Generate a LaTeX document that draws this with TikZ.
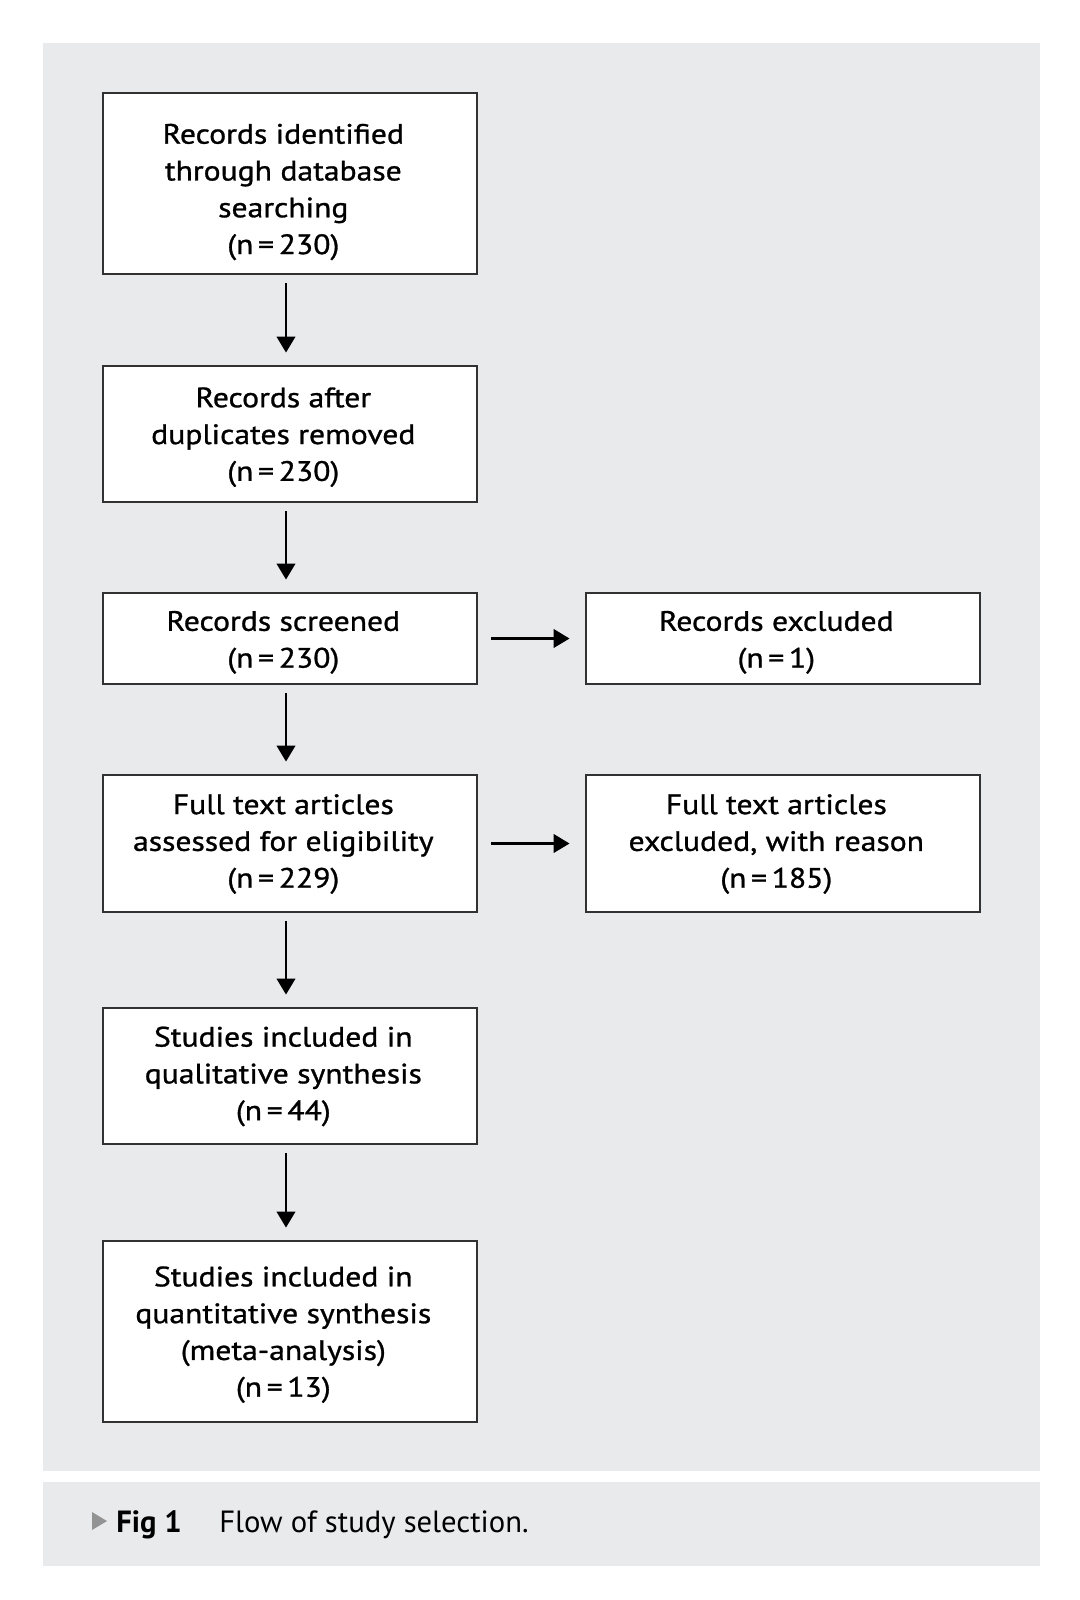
\documentclass[tikz,border=0pt]{standalone}
\usepackage{fontspec}
\setmainfont{PT Sans}
\newfontfamily\boxfont[FakeStretch=1.13,FakeBold=1.0]{PT Sans}
\usetikzlibrary{arrows.meta}
\definecolor{panel}{RGB}{233,234,236}
\definecolor{boxline}{RGB}{50,50,50}
\newcommand\btext[2][2pt]{\raisebox{-#1}[\height][\depth]{\kern-5pt\begin{tabular}{@{}c@{}}#2\end{tabular}\kern5pt}}
\begin{document}
\begin{tikzpicture}[x=0.75pt,y=-0.75pt,
  box/.style={draw=boxline,line width=2.2pt,fill=white,align=center,inner sep=0pt,
    font=\boxfont\fontsize{21pt}{27.6pt}\selectfont},
  lbox/.style={box,minimum width=280.5pt},
  rbox/.style={box,minimum width=295.5pt},
  flow/.style={line width=1.6pt,-{Triangle[width=14pt,length=12pt]}},
  down/.style={flow,shorten <=6pt,shorten >=9pt},
  side/.style={flow,shorten <=9.75pt,shorten >=11.25pt}]
\useasboundingbox (0,0) rectangle (1080,1600);
\fill[panel] (43,43) rectangle (1040,1471);
\fill[panel] (43,1482) rectangle (1040,1566);

\node[lbox,minimum height=135.75pt] (b1) at (290,183.5) {\btext[6pt]{Records identified\\through database\\searching\\(n\,=\,230)}};
\node[lbox,minimum height=102pt] (b2) at (290,434) {\btext[2pt]{Records after\\duplicates removed\\(n\,=\,230)}};
\node[lbox,minimum height=68.25pt] (b3) at (290,638.5) {\btext[2.5pt]{Records screened\\(n\,=\,230)}};
\node[lbox,minimum height=102.75pt] (b4) at (290,843.5) {\btext[0pt]{Full text articles\\assessed for eligibility\\(n\,=\,229)}};
\node[lbox,minimum height=102pt] (b5) at (290,1076) {\btext[0pt]{Studies included in\\qualitative synthesis\\(n\,=\,44)}};
\node[lbox,minimum height=135.75pt] (b6) at (290,1331.5) {\btext[2pt]{Studies included in\\quantitative synthesis\\(meta-analysis)\\(n\,=\,13)}};
\node[rbox,minimum height=68.25pt] (r3) at (783,638.5) {\btext[2.5pt]{Records excluded\\(n\,=\,1)}};
\node[rbox,minimum height=102.75pt] (r4) at (783,843.5) {\btext[0pt]{Full text articles\\excluded, with reason\\(n\,=\,185)}};

\draw[down] ([xshift=-3pt]b1.south) -- ([xshift=-3pt]b2.north);
\draw[down] ([xshift=-3pt]b2.south) -- ([xshift=-3pt]b3.north);
\draw[down] ([xshift=-3pt]b3.south) -- ([xshift=-3pt]b4.north);
\draw[down] ([xshift=-3pt]b4.south) -- ([xshift=-3pt]b5.north);
\draw[down] ([xshift=-3pt]b5.south) -- ([xshift=-3pt]b6.north);
\draw[side] (b3.east) -- (r3.west);
\draw[side] (b4.east) -- (r4.west);

\fill[gray!85] (92,1512) -- (107,1521) -- (92,1530) -- cycle;
\node[anchor=base west,inner sep=0pt,font=\fontsize{23pt}{28pt}\selectfont\bfseries] (fig) at (116,1532) {Fig 1};
\node[anchor=base west,inner sep=0pt,font=\fontsize{23pt}{28pt}\selectfont] (cap) at (219,1532) {Flow of study selection.};
\end{tikzpicture}
\end{document}
